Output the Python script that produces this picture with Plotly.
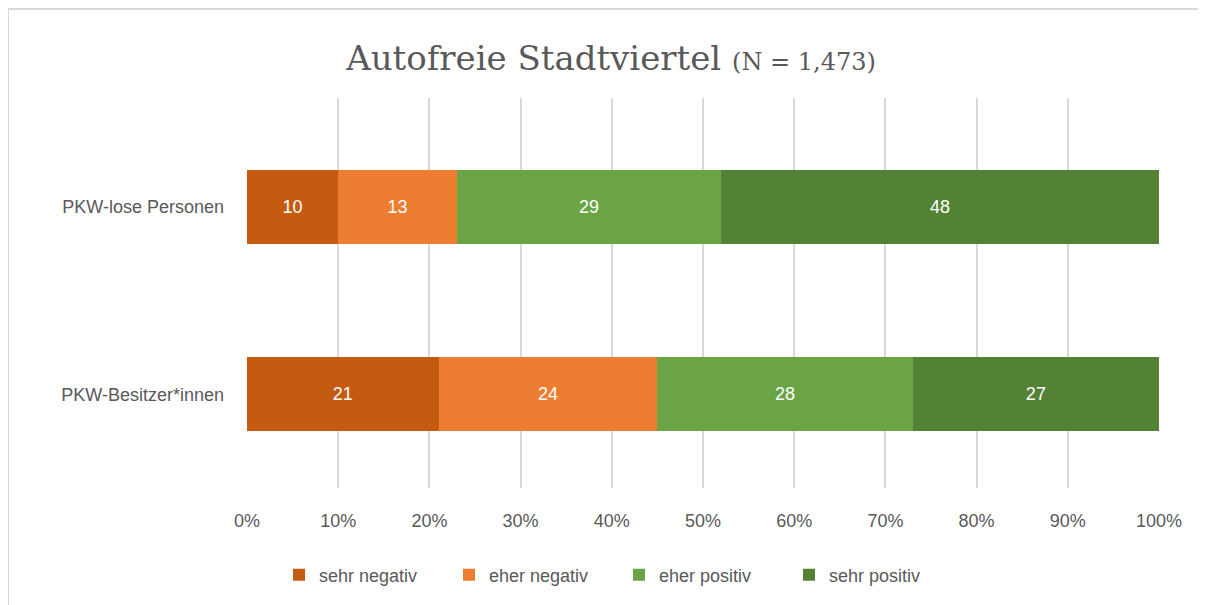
import plotly.graph_objects as go

categories = ["PKW-lose Personen", "PKW-Besitzer*innen"]
series_names = ["sehr negativ", "eher negativ", "eher positiv", "sehr positiv"]
values = {
    "sehr negativ": [10, 21],
    "eher negativ": [13, 24],
    "eher positiv": [29, 28],
    "sehr positiv": [48, 27],
}
colors = ["#C55A11", "#ED7D31", "#6AA444", "#548235"]
tick_vals = [0, 10, 20, 30, 40, 50, 60, 70, 80, 90, 100]
tick_text = [f"{v}%" for v in tick_vals]

fig = go.Figure()
for name, col in zip(series_names, colors):
    fig.add_trace(go.Bar(
        name=name, y=categories, x=values[name], orientation="h",
        marker=dict(color=col, line=dict(width=0)),
        text=[str(v) for v in values[name]], textposition="inside",
        insidetextanchor="middle",
        textfont=dict(color="white", size=18, family="Liberation Sans"),
        width=0.395,
    ))

# page is rendered with an 8px body offset
OFF = 8
W, H = 1206, 605
L, R, T, B = 247 - OFF, 55, 98 - OFF, 605 - (488 - OFF)
pw, ph = W - L - R, H - T - B
def px(x): return (x - L) / pw
def py(y): return (H - B - y) / ph

fig.update_layout(
    width=W, height=H, barmode="stack",
    paper_bgcolor="white", plot_bgcolor="white",
    margin=dict(l=L, r=R, t=T, b=B, pad=0),
    title=dict(text='Autofreie Stadtviertel <span style="font-size:24px">(N = 1,473)</span>',
               x=0.5, xref="container", xanchor="center", y=1 - (58 - OFF) / H, yanchor="middle",
               yref="container",
               font=dict(family="DejaVu Serif", size=34, color="#595959")),
    font=dict(family="Liberation Sans", color="#595959", size=17),
    showlegend=True,
    legend=dict(orientation="h", x=0.5 + 8 / W, xref="container", xanchor="center",
                y=1 - (575 - OFF) / H, yref="container", yanchor="middle",
                font=dict(size=18, color="#595959"), traceorder="normal",
                itemwidth=30, entrywidth=125, entrywidthmode="pixels"),
    xaxis=dict(range=[0, 100], tickvals=tick_vals, ticktext=tick_text,
               showgrid=True, gridcolor="#D9D9D9", gridwidth=2,
               zeroline=False, showline=False, ticks="", ticklabelstandoff=20,
               tickfont=dict(size=18, color="#595959")),
    yaxis=dict(categoryorder="array", categoryarray=categories, range=[1.499, -0.581],
               showgrid=False, zeroline=False, showline=False, ticks="",
               ticklabelstandoff=22, tickfont=dict(size=18, color="#595959")),
    shapes=[dict(type="rect", xref="paper", yref="paper",
                 x0=px(0), x1=px(1220), y0=py(620), y1=py(1),
                 line=dict(color="#D9D9D9", width=2), layer="below")],
)

fig.write_html("out.html")
